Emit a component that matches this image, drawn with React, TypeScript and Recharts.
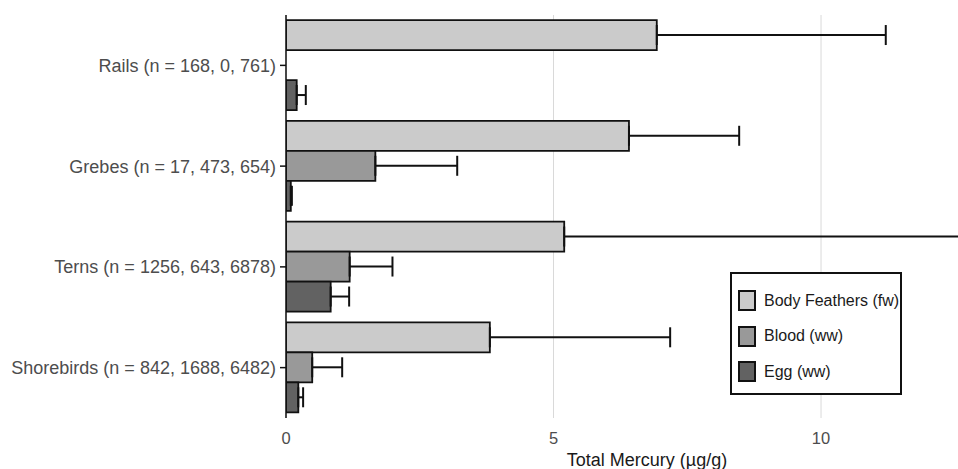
import {
  BarChart,
  Bar,
  XAxis,
  YAxis,
  CartesianGrid,
  ErrorBar,
} from "recharts";

const species = [
  "Rails (n = 168, 0, 761)",
  "Grebes (n = 17, 473, 654)",
  "Terns (n = 1256, 643, 6878)",
  "Shorebirds (n = 842, 1688, 6482)",
];

// means and upper error limits, µg/g
const featherMean = [6.93, 6.41, 5.2, 3.81];
const featherUpper = [11.21, 8.47, 13.6, 7.18];
const bloodMean = [null, 1.67, 1.19, 0.49];
const bloodUpper = [null, 3.2, 1.99, 1.05];
const eggMean = [0.2, 0.09, 0.835, 0.23];
const eggUpper = [0.37, 0.11, 1.18, 0.32];

const seriesNames = ["Body Feathers (fw)", "Blood (ww)", "Egg (ww)"];
const seriesColors = ["#cbcbcb", "#999999", "#626262"];

const xTicks = [0, 5, 10];

const upperOnly = (mean: number | null, upper: number | null) =>
  mean == null || upper == null ? null : [0, upper - mean];

const data = species.map((name, i) => ({
  name,
  feather: featherMean[i],
  featherErr: upperOnly(featherMean[i], featherUpper[i]),
  blood: bloodMean[i],
  bloodErr: upperOnly(bloodMean[i], bloodUpper[i]),
  egg: eggMean[i],
  eggErr: upperOnly(eggMean[i], eggUpper[i]),
}));

const font = "'Liberation Sans', Arial, sans-serif";

// legend box sits inside the plot, bottom right, so it's drawn as an overlay
function LegendBox() {
  return (
    <div
      style={{
        position: "absolute",
        left: 730,
        top: 272,
        boxSizing: "border-box",
        width: 172,
        height: 123,
        border: "2px solid #111",
        background: "#fff",
        paddingTop: 9,
        paddingLeft: 6,
        fontFamily: font,
        fontSize: 16,
        color: "#1a1a1a",
      }}
    >
      {seriesNames.map((n, i) => (
        <div
          key={n}
          style={{ display: "flex", alignItems: "center", height: 35.5 }}
        >
          <div
            style={{
              boxSizing: "border-box",
              width: 18,
              height: 21,
              border: "2px solid #111",
              background: seriesColors[i],
              marginRight: 8,
            }}
          />
          <span>{n}</span>
        </div>
      ))}
    </div>
  );
}

export default function App() {
  const keys = ["feather", "blood", "egg"];
  return (
    <div style={{ position: "absolute", left: 0, top: 0, background: "#fff" }}>
      <BarChart
        width={958}
        height={469}
        data={data}
        layout="vertical"
        margin={{ top: 15, right: 0, bottom: 0, left: 0 }}
        barCategoryGap="5%"
        barGap={0}
      >
        <CartesianGrid
          horizontal={false}
          stroke="#d9d9d9"
          strokeWidth={1}
          syncWithTicks
        />
        <XAxis
          type="number"
          domain={[0, 12.56]}
          allowDataOverflow
          ticks={xTicks}
          axisLine={false}
          tickLine={false}
          height={51}
          tickMargin={8}
          tick={{ fontSize: 16.5, fill: "#4d4d4d", fontFamily: font }}
          label={{
            value: "Total Mercury (µg/g)",
            position: "insideBottom",
            offset: 3,
            dx: 25,
            style: { fontSize: 18, fill: "#1a1a1a", fontFamily: font },
          }}
        />
        <YAxis
          type="category"
          dataKey="name"
          width={286}
          axisLine={{ stroke: "#111", strokeWidth: 1.5 }}
          tickLine={{ stroke: "#111", strokeWidth: 1.5 }}
          tickSize={6}
          tickMargin={4}
          tick={{ fontSize: 18, fill: "#4d4d4d", fontFamily: font }}
        />
        {keys.map((k, i) => (
          <Bar
            key={k}
            dataKey={k}
            name={seriesNames[i]}
            fill={seriesColors[i]}
            stroke="#111"
            strokeWidth={1.8}
            isAnimationActive={false}
          >
            <ErrorBar
              dataKey={`${k}Err`}
              direction="x"
              width={10}
              stroke="#111"
              strokeWidth={2}
            />
          </Bar>
        ))}
      </BarChart>
      <LegendBox />
    </div>
  );
}
